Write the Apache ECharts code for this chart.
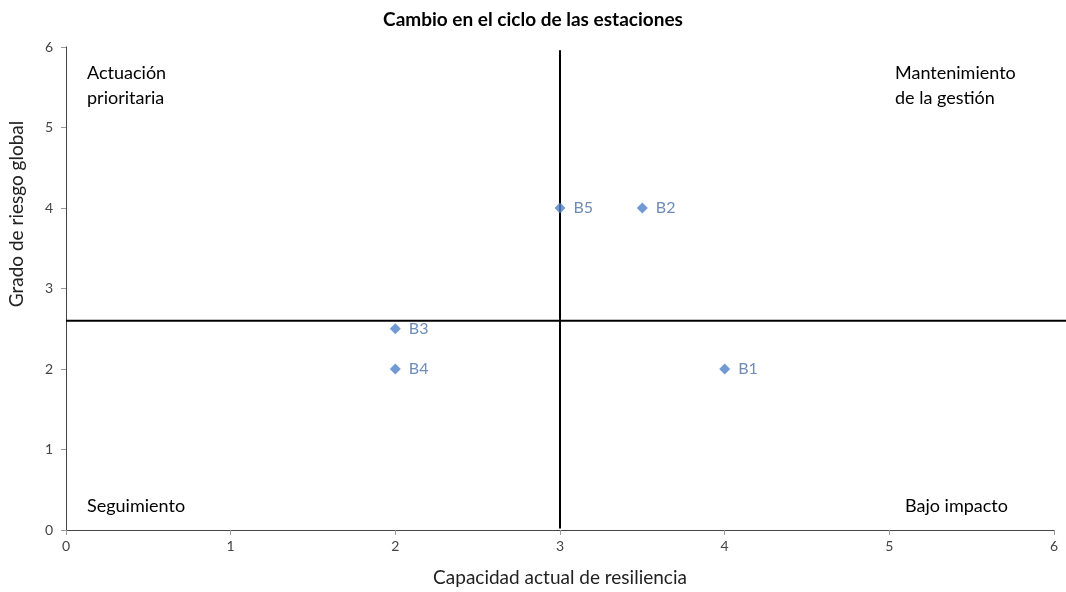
<!DOCTYPE html>
<html>
<head>
<meta charset="utf-8">
<script src="https://cdn.jsdelivr.net/npm/echarts@6/dist/echarts.min.js"></script>
<style>html,body{margin:0;padding:0;background:#fff}#c{width:1066px;height:592px}</style>
</head>
<body>
<div id="c"></div>
<script>
var title = 'Cambio en el ciclo de las estaciones';
var xName = 'Capacidad actual de resiliencia';
var yName = 'Grado de riesgo global';
var pointNames = ['B1', 'B2', 'B3', 'B4', 'B5'];
var xValues = [4, 3.5, 2, 2, 3];
var yValues = [2, 4, 2.5, 2, 4];
var vLine = [[3, 0.02], [3, 5.96]];
var hLine = [[0, 2.6], [6.08, 2.6]];
var quadrantLabels = ['Actuación\nprioritaria', 'Mantenimiento\nde la gestión', 'Seguimiento', 'Bajo impacto'];

var FONT = 'Lato';
var chart = echarts.init(document.getElementById('c'), null, {renderer: 'canvas'});
var pts = pointNames.map(function (n, i) { return {name: n, value: [xValues[i], yValues[i]]}; });
var qStyle = {fontFamily: FONT, fontSize: 18, fill: '#000', lineHeight: 25};
chart.setOption({
  animation: false,
  backgroundColor: '#fff',
  textStyle: {fontFamily: FONT},
  title: {text: title, left: 'center', top: 5, textStyle: {fontFamily: FONT, fontSize: 19, fontWeight: 'bold', color: '#000'}},
  grid: {left: 66, right: 12, top: 47, bottom: 60, containLabel: false},
  xAxis: [{
    type: 'value', min: 0, max: 6, interval: 1,
    name: xName, nameLocation: 'middle', nameGap: 38,
    nameTextStyle: {fontFamily: FONT, fontSize: 19, color: '#222'},
    axisLine: {show: true, onZero: false, lineStyle: {color: '#9a9a9a', width: 1}},
    axisTick: {show: true, length: 5, lineStyle: {color: '#9a9a9a'}},
    axisLabel: {fontFamily: FONT, fontSize: 14, color: '#444', margin: 9},
    splitLine: {show: false}
  }, {
    type: 'value', min: 0, max: 6, position: 'top',
    axisLine: {show: true, lineStyle: {color: '#444', width: 1}},
    axisTick: {show: false}, axisLabel: {show: false}, splitLine: {show: false}
  }],
  yAxis: [{
    type: 'value', min: 0, max: 6, interval: 1,
    axisLine: {show: true, onZero: false, lineStyle: {color: '#9a9a9a', width: 1}},
    axisTick: {show: true, length: 5, lineStyle: {color: '#9a9a9a'}},
    axisLabel: {fontFamily: FONT, fontSize: 14, color: '#444', margin: 13},
    splitLine: {show: false}
  }, {
    type: 'value', min: 0, max: 6, position: 'right',
    axisLine: {show: true, lineStyle: {color: '#444', width: 1}},
    axisTick: {show: false}, axisLabel: {show: false}, splitLine: {show: false}
  }],
  series: [
    {type: 'line', data: vLine, symbol: 'none', clip: false, silent: true,
     lineStyle: {color: '#000', width: 2}, z: 3},
    {type: 'scatter', data: pts, symbol: 'diamond', symbolSize: 11, z: 5,
     itemStyle: {color: '#4f81c7'},
     label: {show: true, position: 'right', distance: 8, formatter: '{b}',
       fontFamily: FONT, fontSize: 16, color: '#4a6fa5'}}
  ]
});
var p0 = chart.convertToPixel({xAxisIndex: 0, yAxisIndex: 0}, hLine[0]);
var p1 = chart.convertToPixel({xAxisIndex: 0, yAxisIndex: 0}, hLine[1]);
chart.setOption({
  graphic: [
    {type: 'line', z: 3, shape: {x1: p0[0], y1: p0[1], x2: p1[0], y2: p1[1]}, style: {stroke: '#000', lineWidth: 2}},
    {type: 'text', left: 87, top: 61, style: Object.assign({text: quadrantLabels[0]}, qStyle)},
    {type: 'text', left: 895, top: 61, style: Object.assign({text: quadrantLabels[1]}, qStyle)},
    {type: 'text', left: 87, top: 494, style: Object.assign({text: quadrantLabels[2]}, qStyle)},
    {type: 'text', left: 905, top: 494, style: Object.assign({text: quadrantLabels[3]}, qStyle)},
    {type: 'text', x: 7, y: 214, rotation: Math.PI / 2,
     style: {text: yName, fontFamily: FONT, fontSize: 19, fill: '#222', align: 'center', verticalAlign: 'top'}}
  ]
});
</script>
</body>
</html>
